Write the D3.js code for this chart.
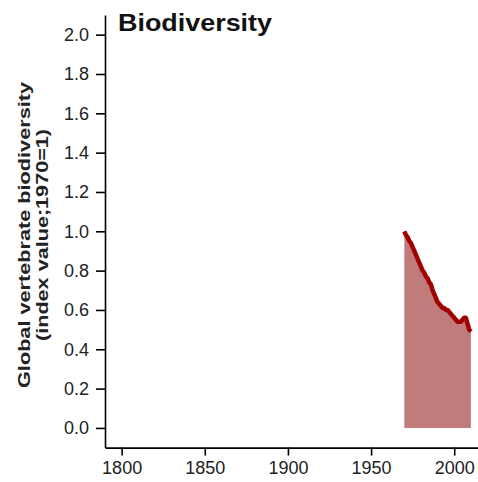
<!DOCTYPE html>
<html><head><meta charset="utf-8">
<script src="https://cdn.jsdelivr.net/npm/d3@7"></script>
<style>body{margin:0;background:#fff;font-family:"Liberation Sans",Arial,sans-serif;}</style>
</head><body>
<svg id="c" width="478" height="482"></svg>
<script>
const years = d3.range(1970, 2011);
const values = [1.00,0.98,0.97,0.95,0.94,0.92,0.90,0.88,0.86,0.84,0.82,0.80,0.79,0.77,0.76,0.74,0.73,0.70,0.68,0.66,0.64,0.63,0.62,0.61,0.61,0.60,0.60,0.59,0.58,0.57,0.56,0.55,0.54,0.54,0.54,0.55,0.56,0.56,0.53,0.50,0.49];
const xTicks = [1800,1850,1900,1950,2000];
const yTicks = [0,0.2,0.4,0.6,0.8,1.0,1.2,1.4,1.6,1.8,2.0];
const data = years.map((y,i)=>({year:y, v:values[i]}));

const svg = d3.select("#c");
const x = d3.scaleLinear().domain([1790, 2014.3]).range([105, 478]);
const y = d3.scaleLinear().domain([-0.1, 2.1]).range([447.6, 15]);
const FF = "Liberation Sans, Arial, sans-serif";

svg.append("path").datum(data)
  .attr("fill","#c07b7b")
  .attr("d", d3.area().x(d=>x(d.year)).y0(y(0)).y1(d=>y(d.v)));
svg.append("path").datum(data)
  .attr("fill","none").attr("stroke","#a00000").attr("stroke-width",4.5).attr("stroke-linejoin","round")
  .attr("d", d3.line().x(d=>x(d.year)).y(d=>y(d.v)));

const ya = svg.append("g").attr("transform","translate(105,0)")
  .call(d3.axisLeft(y).tickValues(yTicks).tickFormat(d3.format(".1f")).tickSize(9).tickPadding(7).tickSizeOuter(0));
const xa = svg.append("g").attr("transform","translate(0,447.6)")
  .call(d3.axisBottom(x).tickValues(xTicks).tickFormat(d3.format("d")).tickSize(8).tickPadding(6).tickSizeOuter(0));
[ya,xa].forEach(a=>{
  a.select(".domain").attr("stroke","#000").attr("stroke-width",1.6);
  a.selectAll(".tick line").attr("stroke","#000").attr("stroke-width",1.6);
  a.selectAll("text").attr("font-family",FF).attr("font-size",18).attr("fill","#222");
});

svg.append("text").attr("x",118).attr("y",31)
  .attr("font-family",FF).attr("font-weight","bold").attr("font-size",23).attr("fill","#111")
  .attr("textLength",154).attr("lengthAdjust","spacingAndGlyphs")
  .text("Biodiversity");

const lab = svg.append("text").attr("transform","translate(30,235) rotate(-90)")
  .attr("text-anchor","middle").attr("font-family",FF).attr("font-weight","bold").attr("font-size",17).attr("fill","#222");
lab.append("tspan").attr("x",0).attr("y",0).attr("textLength",306).attr("lengthAdjust","spacingAndGlyphs").text("Global vertebrate biodiversity");
lab.append("tspan").attr("x",0).attr("y",18).attr("textLength",212).attr("lengthAdjust","spacingAndGlyphs").text("(index value;1970=1)");
</script>
</body></html>
